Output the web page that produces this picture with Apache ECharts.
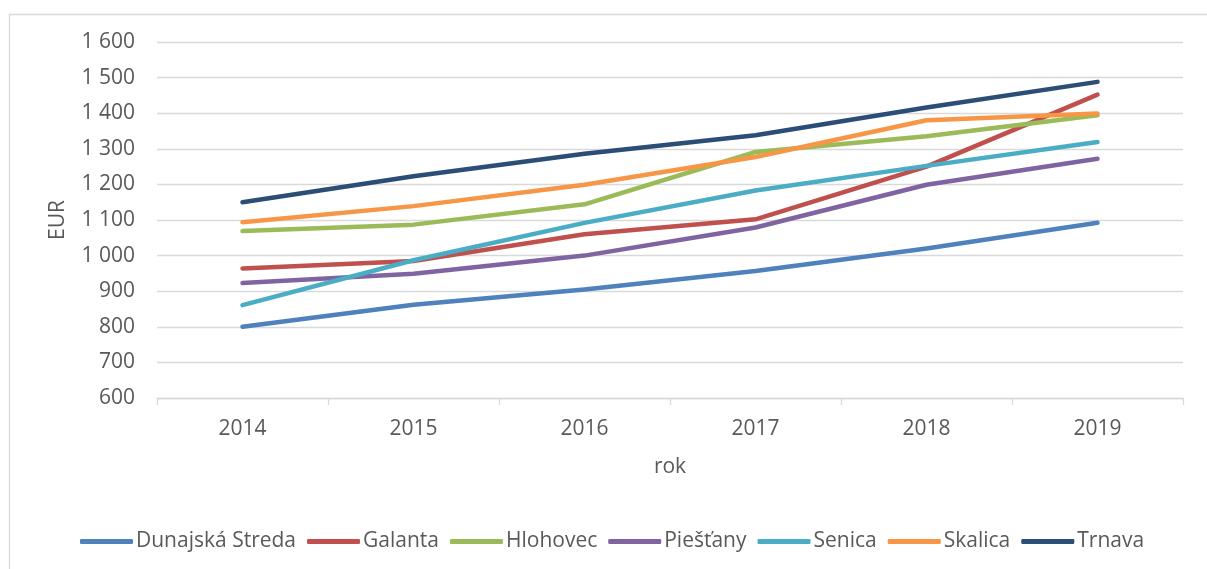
<!DOCTYPE html>
<html>
<head>
<meta charset="utf-8">
<script src="https://cdn.jsdelivr.net/npm/echarts@6/dist/echarts.min.js"></script>
<style>
html,body{margin:0;padding:0;background:#fff;}
#chart{width:1207px;height:569px;}
</style>
</head>
<body>
<div id="chart"></div>
<script>
const years = ['2014', '2015', '2016', '2017', '2018', '2019'];
const dunajskaStreda = [800, 862, 905, 957, 1020, 1092];
const galanta = [964, 985, 1060, 1102, 1250, 1452];
const hlohovec = [1069, 1087, 1144, 1291, 1335, 1394];
const piestany = [923, 949, 1000, 1079, 1199, 1272];
const senica = [861, 987, 1092, 1183, 1252, 1319];
const skalica = [1094, 1139, 1199, 1277, 1380, 1399];
const trnava = [1150, 1223, 1286, 1338, 1416, 1488];

const seriesDefs = [
  ['Dunajská Streda', dunajskaStreda, '#4f81bd'],
  ['Galanta', galanta, '#c0504d'],
  ['Hlohovec', hlohovec, '#9bbb59'],
  ['Piešťany', piestany, '#8064a2'],
  ['Senica', senica, '#4bacc6'],
  ['Skalica', skalica, '#f79646'],
  ['Trnava', trnava, '#2c4d75']
];

const font = '"Open Sans", "Liberation Sans", sans-serif';
const txt = '#595959';

const chart = echarts.init(document.getElementById('chart'), null, {renderer: 'canvas'});
chart.setOption({
  animation: false,
  textStyle: {fontFamily: font},
  graphic: [{
    type: 'rect', left: 7, top: 12, z: -10,
    shape: {width: 1220, height: 580},
    style: {fill: 'none', stroke: '#d9d9d9', lineWidth: 1.3}
  }],
  grid: {left: 157, right: 24, top: 42, bottom: 171},
  legend: {
    bottom: 12, left: 75,
    itemWidth: 53, itemHeight: 5, itemGap: 11,
    icon: 'roundRect',
    textStyle: {color: txt, fontSize: 21, fontFamily: font, padding: [0, 0, 0, -2]},
    data: seriesDefs.map(d => d[0])
  },
  xAxis: {
    type: 'category', data: years, boundaryGap: true,
    name: 'rok', nameLocation: 'middle', nameGap: 59,
    nameTextStyle: {color: txt, fontSize: 21, fontFamily: font},
    axisLine: {lineStyle: {color: '#d9d9d9', width: 1.3}},
    axisTick: {show: true, length: 7, lineStyle: {color: '#d9d9d9', width: 1.3}},
    axisLabel: {color: txt, fontSize: 21, fontFamily: font, margin: 21}
  },
  yAxis: {
    type: 'value', min: 600, max: 1600, interval: 100,
    name: 'EUR', nameLocation: 'middle', nameGap: 88, nameRotate: 90,
    nameTextStyle: {color: txt, fontSize: 21, fontFamily: font},
    axisLine: {show: false}, axisTick: {show: false},
    axisLabel: {
      color: txt, fontSize: 21, fontFamily: font, margin: 22,
      formatter: v => v >= 1000 ? Math.floor(v / 1000) + ' ' + String(v % 1000).padStart(3, '0') : String(v)
    },
    splitLine: {lineStyle: {color: '#d9d9d9', width: 1.3}}
  },
  series: seriesDefs.map(d => ({
    name: d[0], type: 'line', data: d[1], symbol: 'none',
    lineStyle: {color: d[2], width: 4.5, cap: 'round', join: 'round'},
    itemStyle: {color: d[2]}
  }))
});
</script>
</body>
</html>
